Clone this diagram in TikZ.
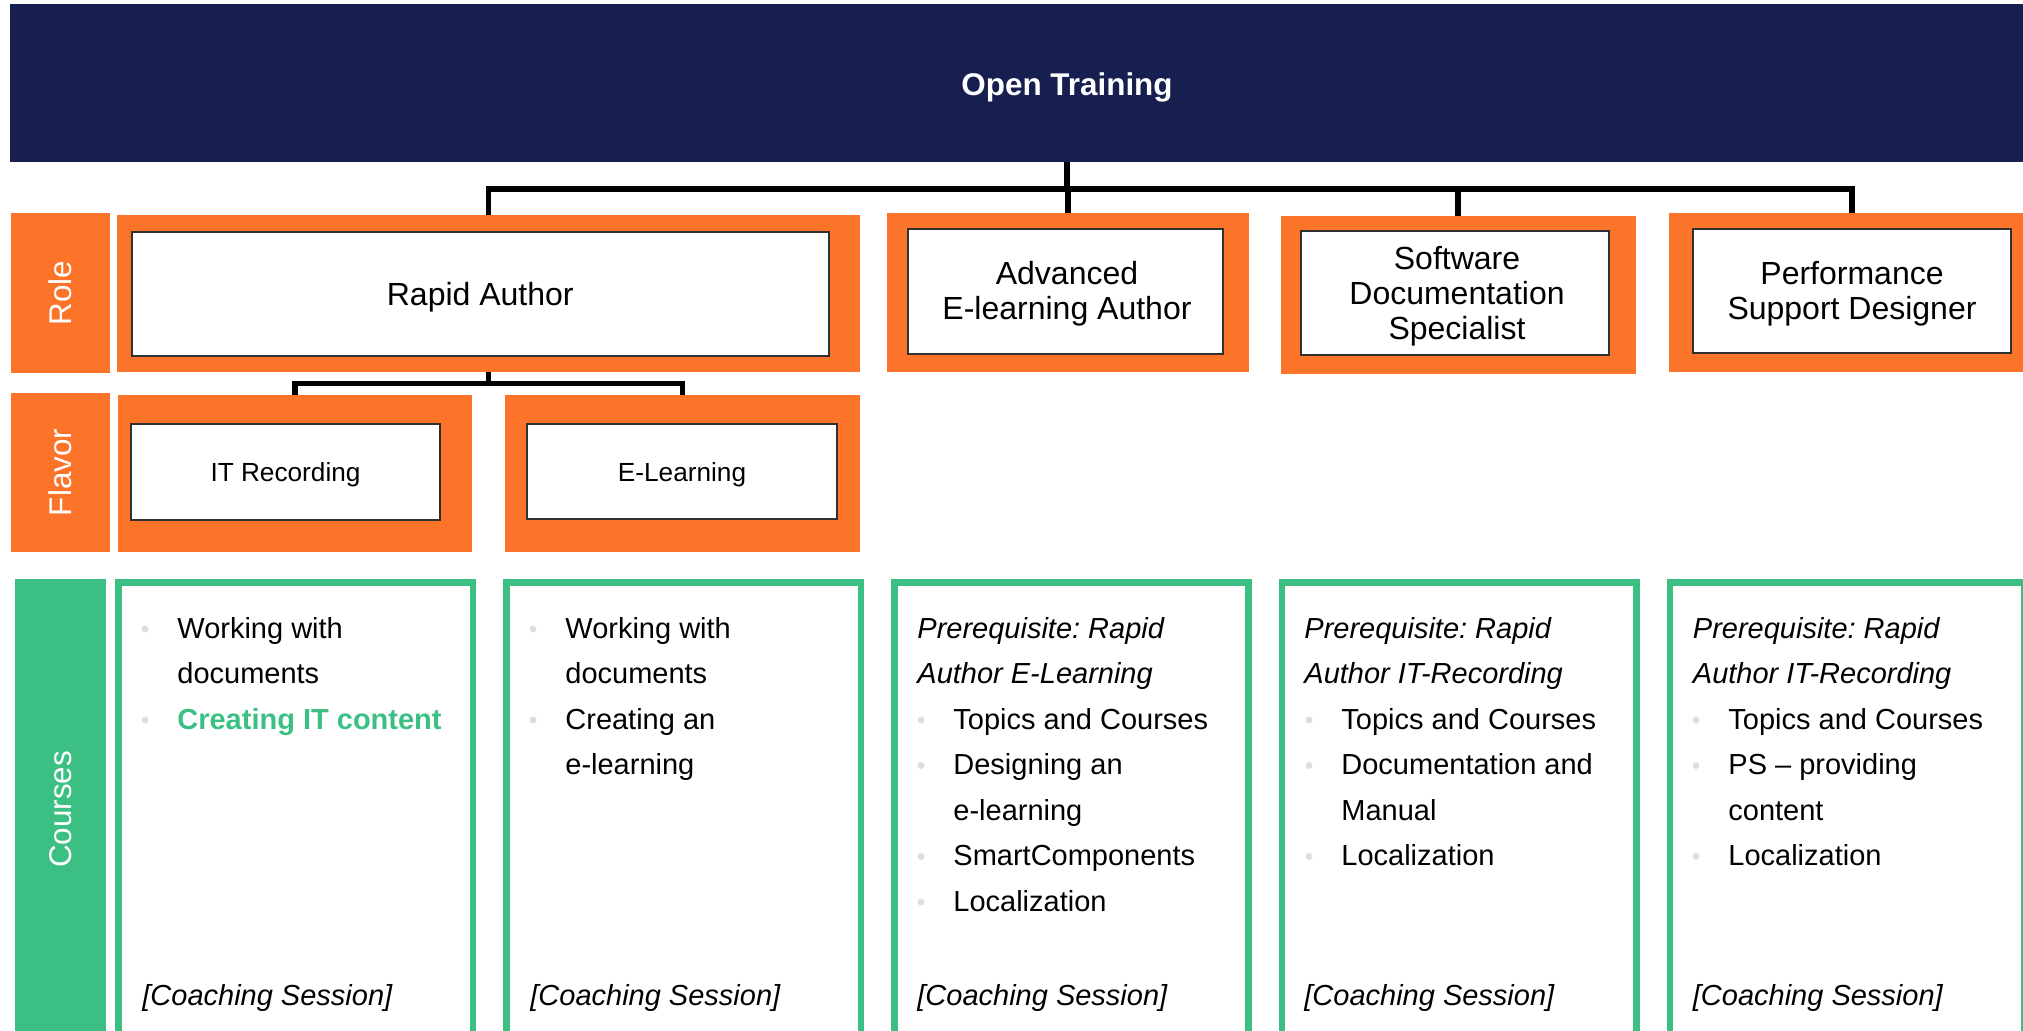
\documentclass[tikz,border=0pt]{standalone}
\usepackage{fontspec}
\setmainfont{Liberation Sans}
\usetikzlibrary{fit,calc}
\definecolor{navy}{HTML}{171E50}
\definecolor{orng}{HTML}{FB7429}
\definecolor{grn}{HTML}{3CBF83}
\definecolor{bulgray}{HTML}{DEDEDE}
\definecolor{framegray}{HTML}{303030}
\frenchspacing
\newcommand\crsbul[4]{%
  \fill[bulgray] (#2-32,#3-9) circle (3.5);
  \node[crs] (#1) at (#2,#3) {#4};}
\newcommand\crsline[4]{%
  \node[crs] (#1) at (#2,#3) {#4};}
\begin{document}
\begin{tikzpicture}[x=0.5pt,y=-0.5pt,
  orangebox/.style={fill=orng, inner sep=0pt},
  whitebox/.style={fill=white, draw=framegray, line width=1pt, inner sep=0pt},
  boxtext/.style={align=center, text=black, inner sep=0pt},
  roletext/.style={boxtext, font=\fontsize{16}{17.5}\selectfont},
  flavtext/.style={boxtext, font=\fontsize{13.1}{15}\selectfont},
  sidelabel/.style={fill=#1, inner sep=0pt},
  sidetext/.style={text=white, rotate=90, inner sep=0pt, font=\fontsize{15.7}{18}\selectfont},
  coursebox/.style={draw=grn, line width=3.25pt, inner sep=0pt},
  conn/.style={draw=black, line width=2.9pt},
  crs/.style={font=\fontsize{14.5}{17}\selectfont, inner sep=0pt, anchor=base west, text=black},
]
\useasboundingbox (0,0) rectangle (2023,1031);
\clip (0,0) rectangle (2023,1031);

% top bar
\node[fill=navy, inner sep=0pt, fit={(10,4) (2124,162)}] (ot) {};
\node[text=white, inner sep=0pt, font=\bfseries\fontsize{15.7}{18}\selectfont] (ottxt) at ($(ot.center)+(0,4)$) {Open Training};

% side labels
\node[sidelabel=orng, fit={(11,213) (110,373)}] (rolelab) {};
\node[sidetext] (roletxt) at (rolelab.center) {Role};
\node[sidelabel=orng, fit={(11,393) (110,552)}] (flavlab) {};
\node[sidetext] (flavtxt) at (flavlab.center) {Flavor};
\node[sidelabel=grn, fit={(15,579) (106,1040)}] (crslab) {};
\node[sidetext] (crstxt) at (crslab.center) {Courses};

% role boxes
\node[orangebox, fit={(117,215) (860,372)}] (raO) {};
\node[whitebox, fit={(131.5,232) (829,356)}] (ra) {};
\node[roletext] (ratxt) at ($(ra.center)+(0,3)$) {Rapid Author};
\node[orangebox, fit={(887,213) (1249,372)}] (advO) {};
\node[whitebox, fit={(908,229) (1222.5,354)}] (adv) {};
\node[roletext] (advtxt) at (1067,293.5) {Advanced\\E-learning Author};
\node[orangebox, fit={(1280.5,216) (1636,374)}] (swO) {};
\node[whitebox, fit={(1300.5,231) (1608.7,355)}] (sw) {};
\node[roletext] (swtxt) at (1457,296) {Software\\Documentation\\Specialist};
\node[orangebox, fit={(1668.6,213) (2036,372)}] (psO) {};
\node[whitebox, fit={(1693,229) (2011,353)}] (ps) {};
\node[roletext] (pstxt) at ($(ps.center)+(0,3)$) {Performance\\Support Designer};

% flavor boxes
\node[orangebox, fit={(118,395) (472,552)}] (itO) {};
\node[whitebox, fit={(131,424) (440,520)}] (it) {};
\node[flavtext] (ittxt) at ($(it.center)+(0,3)$) {IT Recording};
\node[orangebox, fit={(505,395) (860,552)}] (elO) {};
\node[whitebox, fit={(527,424) (837,519)}] (el) {};
\node[flavtext] (eltxt) at ($(el.center)+(0,3)$) {E-Learning};

% connectors
\coordinate (bus) at (1067,189);
\draw[conn] (ot.south) -- (bus);
\draw[conn] (bus) -| (raO.north);
\draw[conn] (bus) -| (advO.north);
\draw[conn] (bus) -| (swO.north);
\draw[conn] (bus) -| (psO.north);
\coordinate (fbus) at (488.5,383.5);
\draw[conn] (raO.south) -- (fbus);
\draw[conn] (fbus) -| (itO.north);
\draw[conn] (fbus) -| (elO.north);

% course boxes
\node[coursebox, fit={(118.25,582.25) (472.75,1060)}] (cb1) {};
\node[coursebox, fit={(506.25,582.25) (860.75,1060)}] (cb2) {};
\node[coursebox, fit={(894.25,582.25) (1248.25,1060)}] (cb3) {};
\node[coursebox, fit={(1281.85,582.25) (1636.35,1060)}] (cb4) {};
\node[coursebox, fit={(1669.95,582.25) (2024.45,1060)}] (cb5) {};

% box 1
\crsbul{a1}{177}{638}{Working with}
\crsline{a2}{177}{683.5}{documents}
\crsbul{a3}{177}{729}{\textcolor{grn}{\bfseries Creating IT content}}
\crsline{a4}{142}{1005}{\itshape [Coaching Session]}

% box 2
\crsbul{b1}{565}{638}{Working with}
\crsline{b2}{565}{683.5}{documents}
\crsbul{b3}{565}{729}{Creating an}
\crsline{b4}{565}{774.5}{e-learning}
\crsline{b5}{530}{1005}{\itshape [Coaching Session]}

% box 3
\crsline{c1}{917}{638}{\itshape Prerequisite: Rapid}
\crsline{c2}{917}{683.5}{\itshape Author E-Learning}
\crsbul{c3}{953}{729}{Topics and Courses}
\crsbul{c4}{953}{774.5}{Designing an}
\crsline{c5}{953}{820}{e-learning}
\crsbul{c6}{953}{865.5}{SmartComponents}
\crsbul{c7}{953}{911}{Localization}
\crsline{c8}{917}{1005}{\itshape [Coaching Session]}

% box 4
\crsline{d1}{1304}{638}{\itshape Prerequisite: Rapid}
\crsline{d2}{1304}{683.5}{\itshape Author IT-Recording}
\crsbul{d3}{1341}{729}{Topics and Courses}
\crsbul{d4}{1341}{774.5}{Documentation and}
\crsline{d5}{1341}{820}{Manual}
\crsbul{d6}{1341}{865.5}{Localization}
\crsline{d7}{1304}{1005}{\itshape [Coaching Session]}

% box 5
\crsline{e1}{1692.5}{638}{\itshape Prerequisite: Rapid}
\crsline{e2}{1692.5}{683.5}{\itshape Author IT-Recording}
\crsbul{e3}{1728}{729}{Topics and Courses}
\crsbul{e4}{1728}{774.5}{PS – providing}
\crsline{e5}{1728}{820}{content}
\crsbul{e6}{1728}{865.5}{Localization}
\crsline{e7}{1692.5}{1005}{\itshape [Coaching Session]}
\end{tikzpicture}
\end{document}
